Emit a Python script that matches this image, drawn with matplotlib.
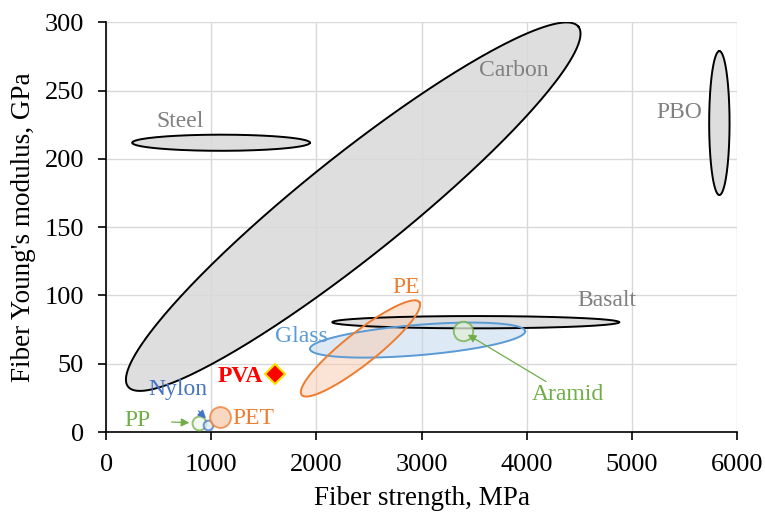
import numpy as np
import matplotlib
matplotlib.use("Agg")
import matplotlib.pyplot as plt

plt.rcParams['font.family'] = ['Liberation Serif', 'DejaVu Serif']

# ellipse regions: centre, half major vector, half minor vector (data units)
names = ["Carbon", "Steel", "PBO", "Basalt", "Glass", "PE"]
cx = [2350, 1092, 5835, 3516, 2962, 2419]
cy = [165, 211.8, 226.2, 80.4, 67.3, 61.2]
major = [(2143, 131.8), (846, 0), (0, 52.7), (1365, 0), (1024, 6.5), (560, 34)]
minor = [(-297, 28.8), (0, 5.9), (97, 0), (0, 4.5), (-11.7, 11.07), (-94, 9.2)]
edge = ["black", "black", "black", "black", "#5B9BD5", "#ED7D31"]
face = ["#D9D9D9", "#D9D9D9", "#D9D9D9", "#D9D9D9", "#BDD7EE", "#F8CBAD"]
alpha = [0.85, 0.85, 0.85, 0.85, 0.5, 0.5]

# labels of regions
lab_x = [3881, 700, 5452, 4764, 1859, 2849]
lab_y = [264.7, 227, 233.8, 96.5, 70, 106]
lab_c = ["#808080", "#808080", "#808080", "#808080", "#5B9BD5", "#ED7D31"]

# single fibres shown as small circles
pts = ["Aramid", "PP", "Nylon", "PET"]
pt_x = [3398, 881, 967, 1084]
pt_y = [74.3, 6.8, 5.1, 10.8]
pt_ms = [14, 10, 7, 15]
pt_edge = ["#70AD47", "#70AD47", "#4472C4", "#ED7D31"]
pt_face = ["#E2F0D9", "#F0F7EC", "#DEEBF7", "#F8CBAD"]

pva_x, pva_y = 1602, 42.4

fig = plt.figure(figsize=(7.65, 5.18), dpi=100)
ax = fig.add_axes([0.139, 0.166, 0.824, 0.791])

t = np.linspace(0, 2 * np.pi, 300)
for i in range(len(names)):
    x = cx[i] + major[i][0] * np.cos(t) + minor[i][0] * np.sin(t)
    y = cy[i] + major[i][1] * np.cos(t) + minor[i][1] * np.sin(t)
    ax.fill(x, y, color=face[i], alpha=alpha[i], zorder=2)
    ax.plot(x, y, color=edge[i], lw=1.4, zorder=3)
    ax.text(lab_x[i], lab_y[i], names[i], color=lab_c[i], fontsize=17,
            ha='center', va='center', zorder=5)

for i in range(len(pts)):
    ax.plot(pt_x[i], pt_y[i], 'o', ms=pt_ms[i], mfc=pt_face[i], mec=pt_edge[i],
            mew=1.4, alpha=0.75, zorder=4)

ax.plot(pva_x, pva_y, 'D', ms=10, mfc='red', mec='#FFE000', mew=1.5, zorder=6)
ax.text(1271, 40.7, "PVA", color='red', fontsize=17, fontweight='bold',
        ha='center', va='center', zorder=6)

# labels with arrows
ax.annotate("Aramid", xy=(3440, 71.3), xytext=(4052, 27.2), color="#70AD47",
            fontsize=17, ha='left', va='center', zorder=6,
            arrowprops=dict(arrowstyle='-|>', color="#70AD47", lw=0.9,
                            shrinkA=0, shrinkB=0, mutation_scale=12))
ax.annotate("PP", xy=(790, 6.8), xytext=(297, 8.3), color="#70AD47",
            fontsize=17, ha='center', va='center', zorder=6,
            arrowprops=dict(arrowstyle='-|>', color="#70AD47", lw=0.9,
                            shrinkA=13, shrinkB=0, mutation_scale=12))
ax.annotate("Nylon", xy=(948, 10), xytext=(678, 30.9), color="#4472C4",
            fontsize=17, ha='center', va='center', zorder=6,
            arrowprops=dict(arrowstyle='-|>', color="#4472C4", lw=0.9,
                            shrinkA=8, shrinkB=0, mutation_scale=12))
ax.text(1398, 10, "PET", color="#ED7D31", fontsize=17, ha='center',
        va='center', zorder=6)

ax.set_xlim(0, 6000)
ax.set_ylim(0, 300)
ax.set_xticks(range(0, 6001, 1000))
ax.set_yticks(range(0, 301, 50))
ax.set_axisbelow(True)
ax.grid(True, color='#D9D9D9', lw=1)
for s in ['top', 'right']:
    ax.spines[s].set_visible(False)
ax.spines['left'].set_linewidth(1.2)
ax.spines['bottom'].set_linewidth(1.2)
ax.tick_params(direction='out', length=6, width=1.2, labelsize=19, pad=10)
ax.set_xlabel("Fiber strength, MPa", fontsize=19.5, labelpad=7)
ax.set_ylabel("Fiber Young's modulus, GPa", fontsize=19.5, labelpad=6)

fig.savefig("out.png", dpi=100)
